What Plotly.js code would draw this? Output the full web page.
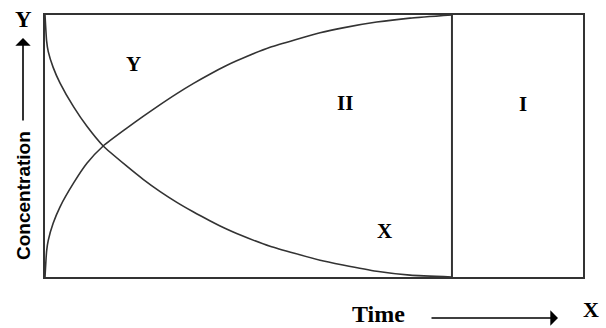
<!DOCTYPE html>
<html>
<head>
<meta charset="utf-8">
<script src="https://cdn.plot.ly/plotly-3.0.1.min.js"></script>
<style>
  html, body { margin: 0; padding: 0; background: #fff; }
  #chart { width: 606px; height: 328px; }
</style>
</head>
<body>
<div id="chart"></div>
<script>
// Concentration of X (reactant) and Y (product) against time
const time = [0, 0.004, 0.008, 0.020, 0.037, 0.070, 0.103, 0.143, 0.201, 0.242, 0.283, 0.324, 0.364, 0.405, 0.446, 0.471, 0.553, 0.676, 0.732, 0.815, 0.897, 1.0];
const concX = [1.0, 0.90, 0.86, 0.80, 0.74, 0.65, 0.575, 0.50, 0.423, 0.372, 0.326, 0.285, 0.249, 0.215, 0.183, 0.166, 0.117, 0.064, 0.046, 0.022, 0.007, 0.0];
const concY = [0.0, 0.10, 0.14, 0.205, 0.268, 0.358, 0.434, 0.50, 0.568, 0.614, 0.658, 0.700, 0.738, 0.774, 0.807, 0.825, 0.877, 0.932, 0.951, 0.973, 0.988, 1.0];
const timeMax = 1.322;   // box keeps going past the end of the reaction
const regionEdge = 1.0;  // boundary between region II and region I

const W = 606, H = 328;
const M = { l: 45, r: 23, t: 15, b: 51 };
// pixel -> paper coords (for the loose labels around the box)
function px(x) { return (x - M.l) / (W - M.l - M.r); }
function py(y) { return (H - M.b - y) / (H - M.t - M.b); }

const lineStyle = { color: '#333', width: 1.6, shape: 'spline', smoothing: 0.5 };

const data = [
    { x: time, y: concX, type: 'scatter', mode: 'lines', line: lineStyle, name: 'X', hoverinfo: 'skip' },
    { x: time, y: concY, type: 'scatter', mode: 'lines', line: lineStyle, name: 'Y', hoverinfo: 'skip' }
];

const serif = { family: 'Liberation Serif, Times New Roman, serif', color: '#000' };

function label(text, x, y, size) {
    return {
        text: '<b>' + text + '</b>', xref: 'paper', yref: 'paper', x: px(x), y: py(y),
        xanchor: 'center', yanchor: 'middle', showarrow: false,
        font: Object.assign({ size: size }, serif)
    };
}

const annotations = [
    label('Y', 133, 64, 21),
    label('II', 345, 103, 21),
    label('I', 523, 104, 21),
    label('X', 384, 231, 21),
    label('Y', 23, 19, 23),
    label('X', 591, 309, 22),
    label('Time', 378, 314, 24),
    {
        text: '<b>Concentration</b>', xref: 'paper', yref: 'paper', x: px(23), y: py(196),
        xanchor: 'center', yanchor: 'middle', textangle: -90, showarrow: false,
        font: { family: 'Liberation Sans, Arial, sans-serif', size: 19, color: '#000' }
    },
    // arrow up along the concentration axis
    {
        text: '', xref: 'paper', yref: 'paper', x: px(23), y: py(38),
        ax: 0, ay: 84, showarrow: true, arrowhead: 1, arrowsize: 1.6, arrowwidth: 1.6, arrowcolor: '#000'
    },
    // arrow along time
    {
        text: '', xref: 'paper', yref: 'paper', x: px(558), y: py(318),
        ax: -128, ay: 0, showarrow: true, arrowhead: 1, arrowsize: 1.6, arrowwidth: 1.6, arrowcolor: '#000'
    }
];

const axisStyle = {
    showline: true, mirror: true, linecolor: '#333', linewidth: 2,
    showgrid: false, zeroline: false, ticks: '', showticklabels: false, fixedrange: true
};

const layout = {
    width: W, height: H,
    margin: M,
    paper_bgcolor: '#fff', plot_bgcolor: '#fff',
    showlegend: false,
    xaxis: Object.assign({ range: [0, timeMax] }, axisStyle),
    yaxis: Object.assign({ range: [0, 1] }, axisStyle),
    shapes: [{
        type: 'line', xref: 'x', yref: 'y', x0: regionEdge, x1: regionEdge, y0: 0, y1: 1,
        line: { color: '#333', width: 2 }
    }],
    annotations: annotations
};

Plotly.newPlot('chart', data, layout, { displayModeBar: false, staticPlot: true });
</script>
</body>
</html>
